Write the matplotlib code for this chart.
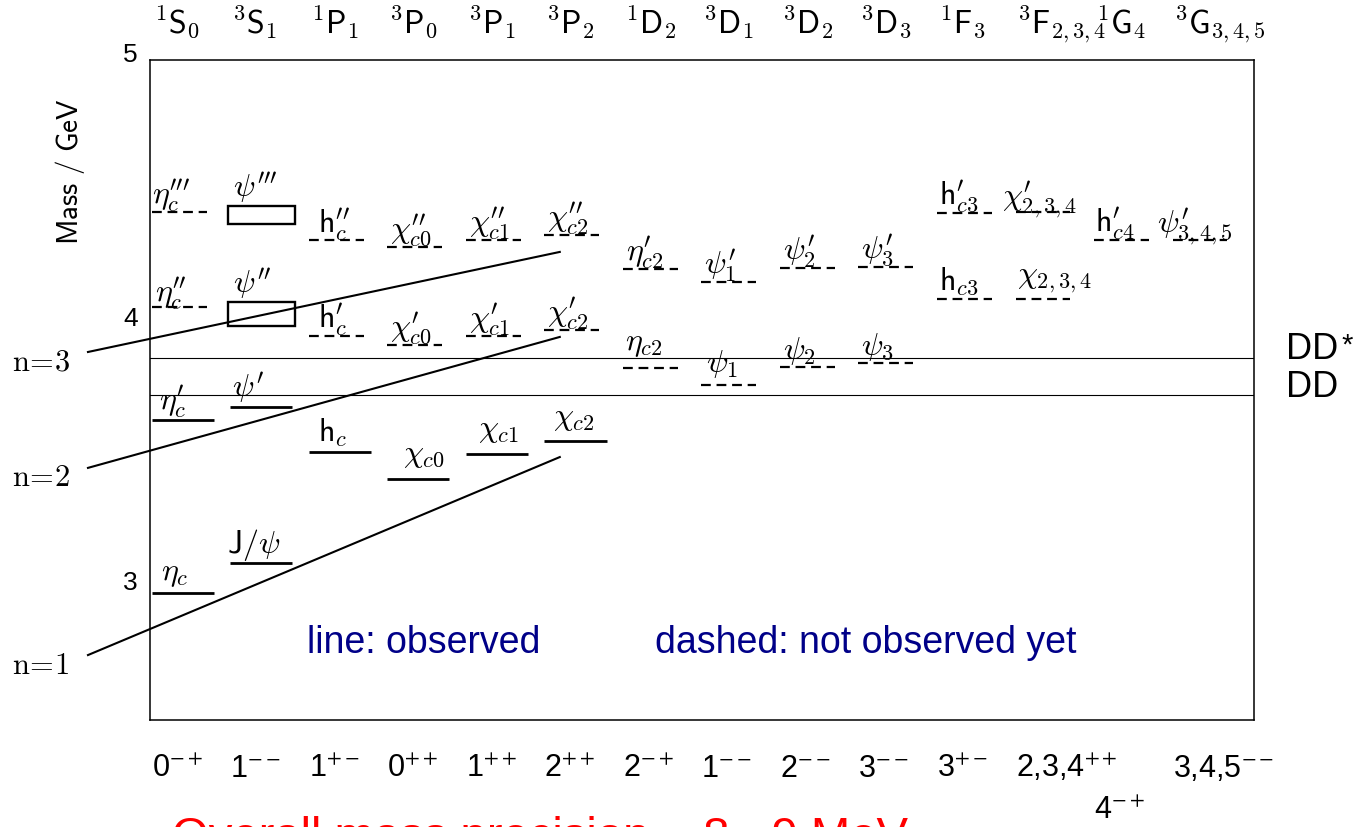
# coding: utf-8
# charmonium spectrum: observed / predicted levels
import matplotlib
matplotlib.use('Agg')
from matplotlib import pyplot as plt
from matplotlib import transforms
from matplotlib.patches import Rectangle

# columns (spectroscopic term and J^PC)
term_labels = [r'$^1\mathsf{S}_0$', r'$^3\mathsf{S}_1$', r'$^1\mathsf{P}_1$', r'$^3\mathsf{P}_0$',
               r'$^3\mathsf{P}_1$', r'$^3\mathsf{P}_2$', r'$^1\mathsf{D}_2$', r'$^3\mathsf{D}_1$',
               r'$^3\mathsf{D}_2$', r'$^3\mathsf{D}_3$', r'$^1\mathsf{F}_3$', r'$^3\mathsf{F}_{2,3,4}$',
               r'$^1\mathsf{G}_4$', r'$^3\mathsf{G}_{3,4,5}$']
jpc_labels = ['0$^{-+}$', '1$^{--}$', '1$^{+-}$', '0$^{++}$', '1$^{++}$', '2$^{++}$', '2$^{-+}$',
              '1$^{--}$', '2$^{--}$', '3$^{--}$', '3$^{+-}$', '2,3,4$^{++}$', '4$^{-+}$', '3,4,5$^{--}$']

# levels: label, column, mass [GeV], observed (1) or not yet (0)
level_labels = [r'$\eta_c$', r'$\mathsf{J}/\psi$', r'$\eta^{\prime}_c$', r'$\psi^{\prime}$',
                r'$\eta^{\prime\prime}_c$', r'$\eta^{\prime\prime\prime}_c$',
                r'$\mathsf{h}_c$', r'$\chi_{c0}$', r'$\chi_{c1}$', r'$\chi_{c2}$',
                r'$\mathsf{h}^{\prime}_c$', r'$\chi^{\prime}_{c0}$', r'$\chi^{\prime}_{c1}$', r'$\chi^{\prime}_{c2}$',
                r'$\mathsf{h}^{\prime\prime}_c$', r'$\chi^{\prime\prime}_{c0}$', r'$\chi^{\prime\prime}_{c1}$',
                r'$\chi^{\prime\prime}_{c2}$',
                r'$\eta_{c2}$', r'$\psi_1$', r'$\psi_2$', r'$\psi_3$',
                r'$\eta^{\prime}_{c2}$', r'$\psi^{\prime}_1$', r'$\psi^{\prime}_2$', r'$\psi^{\prime}_3$',
                r'$\mathsf{h}_{c3}$', r'$\chi_{2,3,4}$', r'$\mathsf{h}^{\prime}_{c3}$', r'$\chi^{\prime}_{2,3,4}$',
                r'$\mathsf{h}^{\prime}_{c4}$', r'$\psi^{\prime}_{3,4,5}$']
level_col = [0, 1, 0, 1, 0, 0,
             2, 3, 4, 5,
             2, 3, 4, 5,
             2, 3, 4, 5,
             6, 7, 8, 9,
             6, 7, 8, 9,
             10, 11, 10, 11,
             12, 13]
level_mass = [2.981, 3.095, 3.636, 3.686, 4.064, 4.424,
              3.515, 3.413, 3.508, 3.557,
              3.955, 3.920, 3.955, 3.977,
              4.318, 4.292, 4.318, 4.337,
              3.833, 3.769, 3.837, 3.852,
              4.208, 4.159, 4.212, 4.216,
              4.095, 4.095, 4.420, 4.424,
              4.318, 4.318]
level_seen = [1, 1, 1, 1, 0, 0,
              1, 1, 1, 1,
              0, 0, 0, 0,
              0, 0, 0, 0,
              0, 0, 0, 0,
              0, 0, 0, 0,
              0, 0, 0, 0,
              0, 0]

# broad states drawn as boxes (mass range)
box_labels = [r'$\psi^{\prime\prime}$', r'$\psi^{\prime\prime\prime}$']
box_col = [1, 1]
box_lo = [3.992, 4.379]
box_hi = [4.083, 4.447]

# radial trajectories
regge_labels = [r'$\mathrm{n\!=\!1}$', r'$\mathrm{n\!=\!2}$', r'$\mathrm{n\!=\!3}$']
regge_col0 = [-1.21, -1.21, -1.21]
regge_col1 = [4.80, 4.80, 4.80]
regge_m0 = [2.746, 3.455, 3.894]
regge_m1 = [3.496, 3.951, 4.273]

# open charm thresholds
thr_labels = ['DD', 'DD']
thr_star = ['*', '']
thr_mass = [3.871, 3.731]

# label nudges in pixels (dx, dy above level)
label_nudge = {0: (9, 13), 1: (-3, 10), 2: (7, 10), 3: (2, 10), 4: (3, 5), 5: (0, 8),
               6: (9, 10), 7: (16, 17), 8: (12, 17), 9: (9, 16),
               10: (9, 8), 14: (9, 7), 18: (2, 18), 19: (5, 13),
               26: (2, 9), 27: (1, 16), 28: (2, 8), 29: (-14, 7), 30: (1, 8), 31: (-16, 8)}

W, H = 1363, 827


def main():
    plt.rcParams['mathtext.fontset'] = 'cm'

    fig = plt.figure(figsize=(W / 100, H / 100), dpi=100)
    ax = fig.add_axes([150 / W, 1 - 720 / H, 1104 / W, 660 / H])
    ax.set_xlim(-0.42, 13.643)
    ax.set_ylim(2.5, 5.0)
    for s in ax.spines.values():
        s.set_linewidth(1.1)
    ax.set_xticks([])
    ax.set_yticks([3, 4, 5])
    ax.set_yticklabels(['3', '4', '5'], fontsize=19, family='Liberation Sans')
    ax.tick_params(axis='y', length=0, pad=9)
    shift = transforms.ScaledTranslation(0, 7 / 100, fig.dpi_scale_trans)
    for lab in ax.get_yticklabels():
        lab.set_transform(lab.get_transform() + shift)

    half = 0.395
    solid_w = 0.79
    dash_w = 0.70
    for i in range(len(level_labels)):
        c = level_col[i]
        m = level_mass[i]
        x0 = c - half
        if level_seen[i]:
            ax.plot([x0, x0 + solid_w], [m, m], color='black', lw=2.0, solid_capstyle='butt')
        else:
            ax.plot([x0, x0 + dash_w], [m, m], color='black', lw=1.6,
                    dashes=(4.4, 2.6), dash_capstyle='butt')
        dx, dy = label_nudge.get(i, (3, 8))
        ax.annotate(level_labels[i], (x0, m), xytext=(dx, dy), textcoords='offset pixels',
                    ha='left', va='baseline', fontsize=23)

    for i in range(len(box_labels)):
        c = box_col[i]
        ax.add_patch(Rectangle((c - 0.427, box_lo[i]), 0.854, box_hi[i] - box_lo[i],
                               fill=False, lw=1.7, edgecolor='black'))
        ax.annotate(box_labels[i], (c - 0.395, box_hi[i]), xytext=(3, 9), textcoords='offset pixels',
                    ha='left', va='baseline', fontsize=23)

    for i in range(len(thr_mass)):
        ax.axhline(thr_mass[i], color='black', lw=0.8)
        ax.annotate(thr_labels[i], (1.0, thr_mass[i]), xycoords=('axes fraction', 'data'),
                    xytext=(32, -1 if i == 0 else -2), textcoords='offset pixels',
                    ha='left', va='baseline', fontsize=26, family='Liberation Sans')
        if thr_star[i]:
            ax.annotate(thr_star[i], (1.0, thr_mass[i]), xycoords=('axes fraction', 'data'),
                        xytext=(87, 4), textcoords='offset pixels',
                        ha='left', va='baseline', fontsize=21, family='Liberation Sans')

    for i in range(len(regge_labels)):
        ax.plot([regge_col0[i], regge_col1[i]], [regge_m0[i], regge_m1[i]],
                color='black', lw=1.5, clip_on=False)
        ax.annotate(regge_labels[i], (regge_col0[i], regge_m0[i]), xytext=(-76, -10),
                    textcoords='offset pixels', ha='left', va='center', fontsize=22,
                    annotation_clip=False)

    # column headers and J^PC row
    tr = transforms.blended_transform_factory(ax.transData, fig.transFigure)
    for i in range(len(term_labels)):
        ax.text(i - half + 0.02, 1 - 33 / H, term_labels[i], transform=tr,
                ha='left', va='baseline', fontsize=23)
    for i in range(len(jpc_labels)):
        y = 819 if i == 12 else 777
        ax.text(i - half, 1 - y / H, jpc_labels[i], transform=tr, ha='left', va='baseline',
                fontsize=22, family='Liberation Sans', math_fontfamily='stixsans')

    fig.text(70 / W, 1 - 172 / H, r'$\mathsf{Mass\ /\ GeV}$', rotation=90,
             ha='center', va='center', fontsize=21)

    fig.text(307 / W, 1 - 653 / H, 'line: observed', color='#000088', fontsize=27,
             family='Liberation Sans', ha='left', va='baseline')
    fig.text(655 / W, 1 - 653 / H, 'dashed: not observed yet', color='#000088', fontsize=27,
             family='Liberation Sans', ha='left', va='baseline')
    # bottom line runs off the page in the original slide
    fig.text(172 / W, 1 - 850 / H, 'Overall mass precision ~ 8 - 9 MeV', color='red',
             fontsize=34, family='Liberation Sans', ha='left', va='baseline')

    fig.savefig('out.png', dpi=100)


if __name__ == '__main__':
    main()
